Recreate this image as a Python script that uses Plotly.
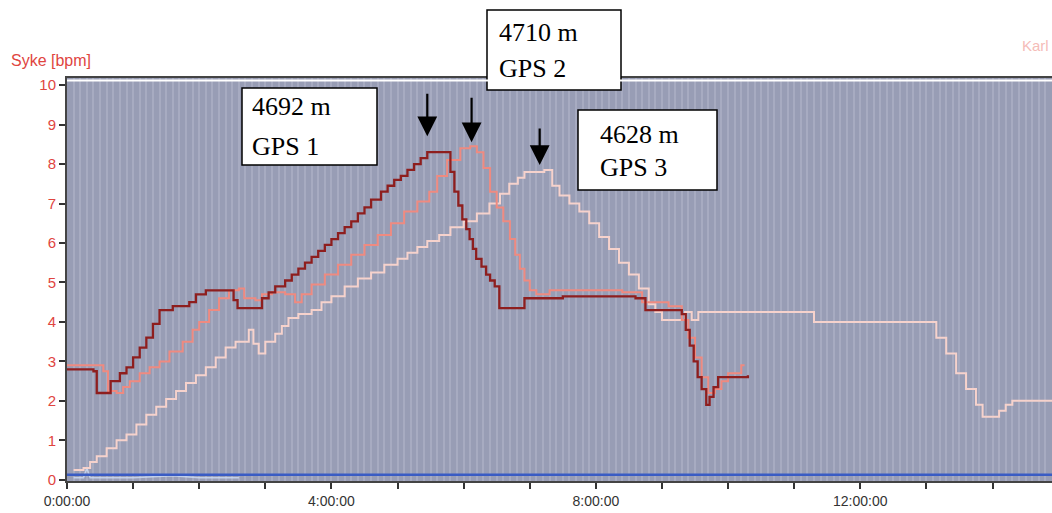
import plotly.graph_objects as go

# Heart-rate style traces from three GPS units (time in hours, value in bpm scale)
gps1_t = [0.0, 0.4, 0.45, 0.62, 0.66, 0.8, 0.9, 1.0, 1.1, 1.2, 1.3, 1.4, 1.6, 1.85, 1.95,
          2.1, 2.45, 2.52, 2.58, 2.9, 2.95, 3.05, 3.15, 3.3, 3.4, 3.5, 3.6, 3.7, 3.8, 3.9,
          4.0, 4.1, 4.2, 4.3, 4.4, 4.5, 4.6, 4.75, 4.85, 4.95, 5.05, 5.15, 5.25, 5.35, 5.45,
          5.72, 5.8, 5.86, 5.92, 5.98, 6.04, 6.09, 6.14, 6.19, 6.27, 6.34, 6.4, 6.47, 6.54,
          6.86, 6.92, 7.2, 7.5, 8.0, 8.6, 8.75, 9.3, 9.36, 9.42, 9.48, 9.54, 9.6, 9.67,
          9.72, 9.78, 9.85, 10.3]
gps1_v = [2.8, 2.75, 2.2, 2.2, 2.5, 2.7, 2.85, 3.1, 3.35, 3.6, 3.95, 4.3, 4.4, 4.5, 4.7,
          4.8, 4.8, 4.55, 4.35, 4.35, 4.6, 4.75, 4.9, 5.05, 5.2, 5.35, 5.5, 5.65, 5.8, 5.95,
          6.1, 6.25, 6.4, 6.55, 6.75, 6.9, 7.1, 7.3, 7.45, 7.6, 7.7, 7.85, 8.0, 8.15, 8.3,
          8.3, 7.8, 7.3, 6.95, 6.6, 6.35, 6.1, 5.85, 5.6, 5.4, 5.2, 5.05, 4.9, 4.35,
          4.35, 4.6, 4.6, 4.65, 4.65, 4.6, 4.3, 4.2, 3.8, 3.4, 3.0, 2.6, 2.3, 1.9,
          2.1, 2.35, 2.6, 2.65]

gps2_t = [0.0, 0.45, 0.55, 0.62, 0.75, 0.85, 0.95, 1.1, 1.25, 1.4, 1.55, 1.75, 1.9, 2.0,
          2.15, 2.3, 2.45, 2.6, 2.68, 2.85, 2.95, 3.1, 3.3, 3.45, 3.55, 3.7, 3.9, 4.1, 4.3,
          4.5, 4.7, 4.9, 5.1, 5.3, 5.48, 5.6, 5.75, 5.95, 6.1, 6.2, 6.3, 6.4, 6.5, 6.6, 6.7,
          6.78, 6.85, 6.92, 7.0, 7.1, 7.3, 8.4, 8.7, 9.1, 9.3, 9.4, 9.5, 9.6, 9.7, 9.8, 9.9,
          10.0, 10.2, 10.25]
gps2_v = [2.9, 2.9, 2.75, 2.25, 2.2, 2.35, 2.5, 2.7, 2.85, 3.0, 3.25, 3.5, 3.8, 4.0,
          4.3, 4.6, 4.8, 4.85, 4.6, 4.55, 4.7, 4.75, 4.7, 4.5, 4.7, 4.95, 5.2, 5.45, 5.7,
          5.95, 6.2, 6.5, 6.8, 7.05, 7.3, 7.7, 8.1, 8.4, 8.45, 8.3, 7.9, 7.3, 6.9, 6.55, 6.1,
          5.7, 5.35, 5.05, 4.8, 4.7, 4.8, 4.75, 4.5, 4.4, 4.05, 3.6, 3.1, 2.6, 2.2, 2.3, 2.5,
          2.7, 2.9, 2.9]

gps3_t = [0.1, 0.25, 0.35, 0.45, 0.6, 0.75, 0.9, 1.05, 1.2, 1.35, 1.5, 1.65, 1.8, 1.95,
          2.1, 2.25, 2.4, 2.55, 2.75, 2.82, 2.9, 3.0, 3.15, 3.25, 3.35, 3.5, 3.7, 3.85, 4.0,
          4.2, 4.4, 4.6, 4.8, 5.0, 5.15, 5.3, 5.45, 5.63, 5.8, 6.0, 6.2, 6.39, 6.55, 6.69,
          6.82, 6.92, 7.22, 7.34, 7.45, 7.6, 7.75, 7.9, 8.05, 8.2, 8.35, 8.5, 8.65, 8.8, 8.9,
          9.0, 9.3, 9.35, 9.45, 9.55, 11.2, 11.3, 13.05, 13.15, 13.3, 13.45, 13.6, 13.75,
          13.85, 14.0, 14.1, 14.2, 14.3, 14.9]
gps3_v = [0.25, 0.3, 0.45, 0.6, 0.8, 1.0, 1.15, 1.4, 1.65, 1.85, 2.05, 2.25, 2.45, 2.65,
          2.85, 3.1, 3.35, 3.5, 3.8, 3.45, 3.2, 3.5, 3.7, 3.9, 4.1, 4.2, 4.3, 4.5, 4.65,
          4.9, 5.1, 5.25, 5.45, 5.6, 5.75, 5.9, 6.05, 6.2, 6.4, 6.55, 6.75, 7.0, 7.25, 7.5,
          7.65, 7.8, 7.85, 7.45, 7.2, 7.0, 6.8, 6.5, 6.15, 5.85, 5.5, 5.2, 4.85, 4.45, 4.25,
          4.05, 4.05, 4.25, 4.05, 4.25, 4.25, 4.0, 4.0, 3.6, 3.2, 2.7, 2.3, 1.9,
          1.6, 1.6, 1.75, 1.9, 2.0, 2.0]

base_t = [0.0, 14.9]
base_v = [0.13, 0.13]

faint_t = [0.1, 0.25, 0.3, 0.35, 0.5, 1.0, 1.6, 2.0, 2.6]
faint_v = [0.05, 0.05, 0.3, 0.05, 0.05, 0.05, 0.1, 0.05, 0.05]

# Peak callouts
peak_dist = ["4692 m", "4710 m", "4628 m"]
peak_unit = ["GPS 1", "GPS 2", "GPS 3"]
peak_t = [5.45, 6.12, 7.15]
peak_v = [8.3, 8.45, 7.85]

hour_ticks = list(range(0, 15))
hour_text = ["0:00:00" if h == 0 else (f"{h}:00:00" if h % 4 == 0 else "") for h in hour_ticks]
y_ticks = list(range(0, 11))

# plot-area geometry in pixels, used to place the callout boxes
L, T, W, H = 67, 78, 985, 403


def px(x):
    return (x - L) / W


def py(y):
    return (T + H - y) / H


fig = go.Figure()
fig.add_trace(go.Scatter(x=faint_t, y=faint_v, mode="lines",
                         line=dict(color="rgba(205,220,245,0.8)", width=1.5),
                         hoverinfo="skip"))
fig.add_trace(go.Scatter(x=base_t, y=base_v, mode="lines",
                         line=dict(color="#3a5cc4", width=2.5)))
fig.add_trace(go.Scatter(x=gps3_t, y=gps3_v, mode="lines", line_shape="hv",
                         line=dict(color="#f6d2cc", width=2)))
fig.add_trace(go.Scatter(x=gps2_t, y=gps2_v, mode="lines", line_shape="hv",
                         line=dict(color="#ef8a80", width=2)))
fig.add_trace(go.Scatter(x=gps1_t, y=gps1_v, mode="lines", line_shape="hv",
                         line=dict(color="#8e1e1e", width=2.3)))

# Arrows pointing at each peak
arrow_ay = [-60, -50, -43]
arrow_standoff = [16, 4, 5]
for t, v, ay, so in zip(peak_t, peak_v, arrow_ay, arrow_standoff):
    fig.add_annotation(x=t, y=v, ax=0, ay=ay, text="", showarrow=True,
                       arrowhead=2, arrowsize=1.8, arrowwidth=2.2,
                       arrowcolor="black", standoff=so)

# Callout boxes: (left, top, right, bottom) in pixels, then text rows
boxes = [(242, 88, 377, 165), (487, 10, 621, 90), (578, 110, 717, 190)]
rows = [(106, 146), (32, 68), (134, 167)]
text_left = [250, 497, 598]
serif = dict(family="Liberation Serif", size=26, color="black")
for (x0, y0, x1, y1), (r1, r2), tl, d, u in zip(boxes, rows, text_left, peak_dist, peak_unit):
    fig.add_shape(type="rect", xref="paper", yref="paper",
                  x0=px(x0), x1=px(x1), y0=py(y1), y1=py(y0),
                  fillcolor="white", line=dict(color="black", width=1.5), layer="above")
    for txt, ry in ((d, r1), (u, r2)):
        fig.add_annotation(xref="paper", yref="paper", x=px(tl), y=py(ry),
                           xanchor="left", yanchor="middle", text=txt,
                           showarrow=False, font=serif)

fig.add_annotation(xref="paper", yref="paper", x=px(9), y=py(60), xanchor="left",
                   yanchor="middle", text="Syke [bpm]", showarrow=False,
                   font=dict(family="Liberation Sans Narrow, Liberation Sans", size=16,
                             color="#e0453f"))
fig.add_annotation(xref="paper", yref="paper", x=px(1051), y=py(46), xanchor="right",
                   yanchor="middle", text="Karl", showarrow=False,
                   font=dict(family="Liberation Sans", size=15, color="#f5bcb8"))

# thin white rim just under the top border
fig.add_shape(type="line", xref="paper", yref="paper", x0=0, x1=1, y0=0.994, y1=0.994,
              line=dict(color="white", width=2))

fig.update_layout(
    width=1052, height=513,
    margin=dict(l=L, r=0, t=T, b=32),
    paper_bgcolor="white",
    plot_bgcolor="#989db5",
    showlegend=False,
    xaxis=dict(
        range=[0, 14.9], tickmode="array", tickvals=hour_ticks, ticktext=hour_text,
        ticks="outside", ticklen=6, tickwidth=1.5, tickcolor="#333",
        showline=True, linecolor="#444", linewidth=2, mirror=True,
        showgrid=True, gridcolor="#a7abc1", gridwidth=2, zeroline=False,
        tickfont=dict(family="Liberation Sans", size=14, color="#333"),
        minor=dict(tickmode="linear", tick0=0, dtick=0.1, showgrid=True,
                   gridcolor="#a7abc1", gridwidth=2, ticks=""),
    ),
    yaxis=dict(
        range=[-0.03, 10.18], tickmode="array", tickvals=y_ticks,
        ticks="outside", ticklen=6, tickwidth=1.5, tickcolor="#333",
        showline=True, linecolor="#444", linewidth=2, mirror=False,
        showgrid=False, zeroline=False,
        tickfont=dict(family="Liberation Sans", size=15, color="#e0453f"),
    ),
)

fig.write_html("out.html")
